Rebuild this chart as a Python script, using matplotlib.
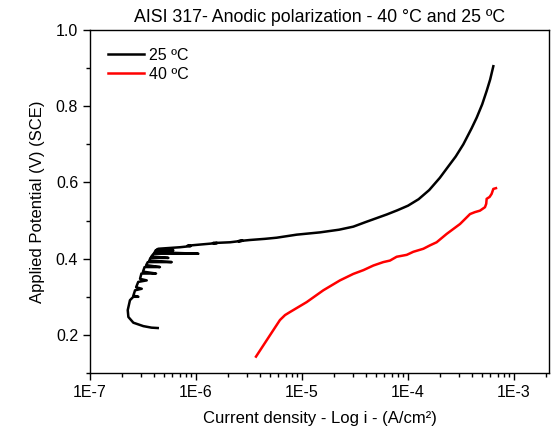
import matplotlib
matplotlib.use("Agg")
import matplotlib.pyplot as plt
import matplotlib.ticker as mticker
import numpy as np

plt.rcParams['font.family'] = ['Liberation Sans', 'DejaVu Sans']

title = "AISI 317- Anodic polarization - 40 °C and 25 ºC"
xlabel = "Current density - Log i - (A/cm²)"
ylabel = "Applied Potential (V) (SCE)"
labels = ["25 ºC", "40 ºC"]

# 25 C curve (log10 of current density, potential V)
log_i_25 = [-6.361, -6.420, -6.497, -6.591, -6.638, -6.644, -6.623, -6.591, -6.544, -6.591,
            -6.575, -6.512, -6.565, -6.545, -6.465, -6.528, -6.515, -6.377, -6.500,
            -6.485, -6.340, -6.470, -6.455, -6.229, -6.440, -6.430, -6.261, -6.420,
            -6.400, -5.978, -6.390, -6.380, -6.214, -6.370, -6.355, -6.151, -6.050,
            -6.080, -5.962, -5.800, -5.840, -5.679, -5.560, -5.600, -5.491, -5.350,
            -5.239, -5.050, -4.830, -4.650, -4.516, -4.400, -4.300, -4.200, -4.100,
            -4.000, -3.900, -3.800, -3.700, -3.620, -3.550, -3.478, -3.400, -3.352,
            -3.300, -3.258, -3.225, -3.195]
E_25 = [0.218, 0.219, 0.223, 0.232, 0.247, 0.265, 0.291, 0.300, 0.300, 0.303,
        0.317, 0.321, 0.325, 0.339, 0.343, 0.347, 0.361, 0.361, 0.366,
        0.378, 0.378, 0.383, 0.391, 0.391, 0.395, 0.402, 0.402, 0.406,
        0.413, 0.413, 0.417, 0.422, 0.422, 0.424, 0.426, 0.430, 0.433,
        0.434, 0.437, 0.441, 0.441, 0.443, 0.447, 0.446, 0.449, 0.452,
        0.455, 0.463, 0.469, 0.476, 0.484, 0.496, 0.506, 0.516, 0.527,
        0.539, 0.556, 0.580, 0.612, 0.642, 0.668, 0.700, 0.742, 0.770,
        0.805, 0.840, 0.870, 0.905]

# 40 C curve
log_i_40 = [-5.434, -5.333, -5.260, -5.208, -5.160, -5.113, -4.956, -4.799, -4.642, -4.516, -4.420,
            -4.327, -4.233, -4.170, -4.107, -4.012, -3.950, -3.855, -3.792, -3.730, -3.635,
            -3.509, -3.415, -3.370, -3.321, -3.274, -3.262, -3.258, -3.230, -3.211, -3.195, -3.170]
E_40 = [0.143, 0.186, 0.217, 0.239, 0.252, 0.260, 0.286, 0.317, 0.343, 0.360, 0.370,
        0.382, 0.391, 0.395, 0.405, 0.410, 0.418, 0.426, 0.435, 0.443, 0.465,
        0.491, 0.517, 0.522, 0.526, 0.535, 0.544, 0.557, 0.562, 0.570, 0.583, 0.585]

i_25 = 10.0 ** np.array(log_i_25)
i_40 = 10.0 ** np.array(log_i_40)

fig = plt.figure(figsize=(5.56, 4.32), dpi=100)
ax = fig.add_axes([90/556, 59/432, (549-90)/556, (373-30)/432])

ax.plot(i_25, E_25, color='black', lw=1.8, label=labels[0], solid_joinstyle='round')
ax.plot(i_40, E_40, color='red', lw=1.8, label=labels[1], solid_joinstyle='round')

ax.set_xscale('log')
ax.set_xlim(1e-7, 10 ** (-3 + 35/106))
ax.set_ylim(0.1, 1.0)

ax.xaxis.set_major_locator(mticker.LogLocator(base=10, numticks=10))
ax.xaxis.set_minor_locator(mticker.LogLocator(base=10, subs=np.arange(2, 10), numticks=20))
ax.xaxis.set_major_formatter(mticker.FuncFormatter(lambda v, p: "1E%d" % int(round(np.log10(v)))))
ax.xaxis.set_minor_formatter(mticker.NullFormatter())

ax.yaxis.set_major_locator(mticker.MultipleLocator(0.2))
ax.yaxis.set_minor_locator(mticker.MultipleLocator(0.1))
ax.yaxis.set_major_formatter(mticker.FormatStrFormatter('%.1f'))

ax.tick_params(which='major', direction='out', length=5, width=1, labelsize=11.5, colors='black')
ax.tick_params(which='minor', direction='out', length=3, width=1)
ax.tick_params(top=False, right=False, which='both')
for s in ax.spines.values():
    s.set_linewidth(1.0)

ax.set_title(title, fontsize=12.8, pad=6)
ax.set_xlabel(xlabel, fontsize=12, labelpad=8)
ax.set_ylabel(ylabel, fontsize=12, labelpad=8)

ax.legend(loc='upper left', frameon=False, fontsize=11.5, handlelength=2.3,
          handletextpad=0.3, borderaxespad=0.7, labelspacing=0.25)

fig.savefig('out.png', dpi=100)
